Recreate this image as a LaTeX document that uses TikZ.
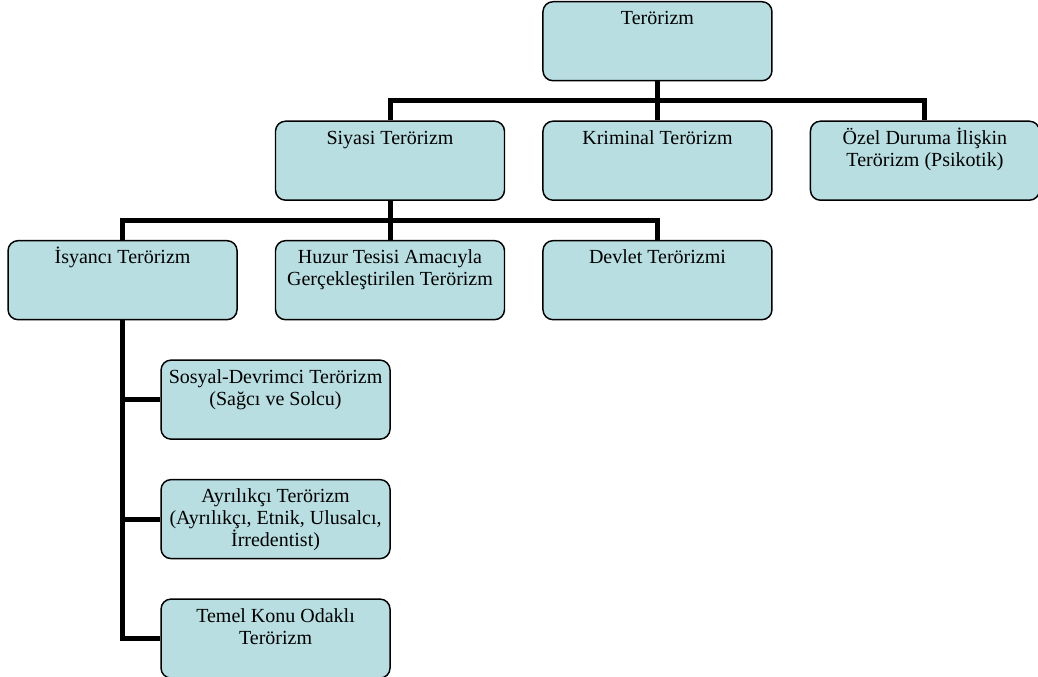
\documentclass[tikz,border=0pt]{standalone}
\usepackage{fontspec}
\setmainfont{Liberation Serif}
\usepackage{tikz}
\usetikzlibrary{positioning,calc}
\definecolor{boxblue}{RGB}{184,222,226}
\tikzstyle{line}=[-, line width=3.75pt]
\tikzstyle{unit}=[rectangle, draw, line width=1.1pt, fill=boxblue, text=black,
		text width=165.75pt, align=flush center, rounded corners=7.5pt,
		inner xsep=3pt, inner ysep=3.75pt, text height=13.5pt, text depth=38.25pt,
		font=\fontsize{15pt}{16.6pt}\selectfont]

\begin{document}
\begin{tikzpicture}[node distance=29.25pt and 27.75pt]
    \useasboundingbox (0,0) rectangle (778.5pt,-507.75pt);

    \node (Teror) at (493.1pt,-0.75pt) [unit, anchor=north] {Terörizm};

    \node (Kriminal) [unit, below=of Teror] {Kriminal Terörizm};
    \node (Siyasi) [unit, left=of Kriminal] {Siyasi Terörizm};
    \node (Ozel) [unit, right=of Kriminal] {Özel Duruma İlişkin\\Terörizm (Psikotik)};

    \node (Devlet) [unit, below=of Kriminal] {Devlet Terörizmi};
    \node (Huzur) [unit, left=of Devlet] {Huzur Tesisi Amacıyla\\Gerçekleştirilen Terörizm};
    \node (Isyanci) [unit, left=of Huzur] {İsyancı Terörizm};

    \node (Sosyal) [unit, below=of Isyanci, xshift=114.75pt]
    {Sosyal-Devrimci Terörizm\\(Sağcı ve Solcu)};
    \node (Ayrilik) [unit, below=of Sosyal]
    {Ayrılıkçı Terörizm\\(Ayrılıkçı, Etnik, Ulusalcı,\\İrredentist)};
    \node (Temel) [unit, below=of Ayrilik] {Temel Konu Odaklı\\Terörizm};

    % first level
    \coordinate (lvl1) at ($(Teror.south)!.5!(Kriminal.north)$);
    \draw[line] (Teror.south) -- (Kriminal.north);
    \draw[line] (Siyasi.north) |- (lvl1) -| (Ozel.north);

    % second level
    \coordinate (lvl2) at ($(Siyasi.south)!.5!(Huzur.north)$);
    \draw[line] (Siyasi.south) -- (Huzur.north);
    \draw[line] (Isyanci.north) |- (lvl2) -| (Devlet.north);

    % insurgent branches
    \draw[line] (Isyanci.south) |- (Temel.west);
    \draw[line] (Isyanci.south |- Sosyal.west) -- (Sosyal.west);
    \draw[line] (Isyanci.south |- Ayrilik.west) -- (Ayrilik.west);
\end{tikzpicture}
\end{document}
